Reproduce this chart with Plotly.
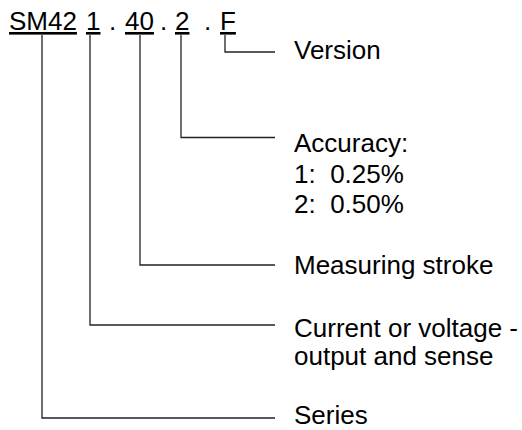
import plotly.graph_objects as go

# ---- data (pixel coordinates of the diagram layout) ----
code_tokens = ["SM42", "1", "40", "2", "F"]
code_token_x = [8, 85, 124, 174, 219]          # left edge of each token
dot_x = [112, 163, 207]                        # centres of separator dots
code_row_y = 21

leader_x = [42, 90, 140, 181, 225]             # vertical leader from each token
leader_y = [418, 325, 265, 137.5, 52]          # where it turns to the right
leader_top = 35
leader_end_x = 275

label_lines = ["Version", "Accuracy:", "1:\u00a0\u00a00.25%", "2:\u00a0\u00a00.50%",
               "Measuring stroke", "Current or voltage -", "output and sense", "Series"]
label_y = [50, 143, 173.5, 204, 265, 328, 356, 415]
label_x = 293

W, H = 522, 430
FONT = dict(family="Liberation Sans, Arial, sans-serif", size=26, color="black")
LINE = dict(color="#222222", width=1.3)

fig = go.Figure()

for lx, ly in zip(leader_x, leader_y):
    fig.add_trace(go.Scatter(x=[lx, lx, leader_end_x], y=[leader_top, ly, ly],
                             mode="lines", line=LINE, hoverinfo="skip",
                             showlegend=False))

annotations = []
for tok, tx in zip(code_tokens, code_token_x):
    annotations.append(dict(x=tx - 1, y=code_row_y, text=f"<u>{tok}</u>",
                            xanchor="left", yanchor="middle"))
for dx in dot_x:
    annotations.append(dict(x=dx, y=code_row_y, text=".",
                            xanchor="center", yanchor="middle"))
for txt, ty in zip(label_lines, label_y):
    annotations.append(dict(x=label_x - 1, y=ty, text=txt,
                            xanchor="left", yanchor="middle"))
for a in annotations:
    a.update(xref="x", yref="y", showarrow=False, font=FONT)

fig.update_layout(
    width=W, height=H,
    margin=dict(l=0, r=0, t=0, b=0),
    paper_bgcolor="white", plot_bgcolor="white",
    xaxis=dict(range=[0, W], visible=False, fixedrange=True),
    yaxis=dict(range=[H, 0], visible=False, fixedrange=True),
    annotations=annotations,
    showlegend=False,
)

fig.write_html("out.html", config={"displayModeBar": False},
               post_script="document.body.style.margin='0';document.body.style.overflow='hidden';")
